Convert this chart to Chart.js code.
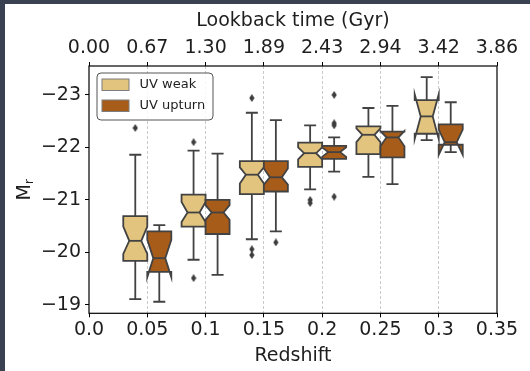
<!DOCTYPE html>
<html>
<head>
<meta charset="utf-8">
<script src="https://cdn.jsdelivr.net/npm/chart.js@4.4.1/dist/chart.umd.min.js"></script>
<style>
  html, body { margin: 0; padding: 0; background: #3a4252; }
  canvas { display: block; }
</style>
</head>
<body>
<canvas id="grafico" width="530" height="371"></canvas>
<script>
// Bins de redshift y ejes
const redshifts = [0.05, 0.10, 0.15, 0.20, 0.25, 0.30];
const zTicks = [0, 0.05, 0.1, 0.15, 0.2, 0.25, 0.3, 0.35];
const zLabels = ['0.0', '0.05', '0.1', '0.15', '0.2', '0.25', '0.3', '0.35'];
const lookbackLabels = ['0.00', '0.67', '1.30', '1.89', '2.43', '2.94', '3.42', '3.86'];
const magTicks = [-23, -22, -21, -20, -19];

// UV weak (M_r): bigote, cuartiles, mediana, muesca
const weakWhiskerMin = [-21.86, -21.94, -22.66, -22.42, -22.75, -23.34];
const weakQ1 = [-20.69, -21.10, -21.74, -22.09, -22.40, -22.90];
const weakMedian = [-20.22, -20.76, -21.48, -21.89, -22.24, -22.59];
const weakQ3 = [-19.84, -20.49, -21.11, -21.63, -21.87, -22.26];
const weakWhiskerMax = [-19.11, -19.86, -20.25, -21.20, -21.44, -22.14];
const weakNotchLo = [-20.49, -20.96, -21.62, -22.00, -22.36, -23.01];
const weakNotchHi = [-19.97, -20.58, -21.31, -21.77, -22.10, -22.16];
const weakOutliers = [[-22.37], [-22.10, -19.51], [-22.94, -20.06, -19.95], [-21.00, -20.94], [], []];

// UV upturn
const upWhiskerMin = [-20.52, -21.88, -22.52, -22.19, -22.79, -22.86];
const upQ1 = [-20.40, -21.00, -21.74, -22.03, -22.30, -22.44];
const upMedian = [-19.89, -20.76, -21.43, -21.91, -22.19, -22.10];
const upQ3 = [-19.63, -20.35, -21.16, -21.78, -21.81, -22.05];
const upWhiskerMax = [-19.06, -19.57, -20.40, -21.54, -21.30, -21.91];
const upNotchLo = [-20.24, -20.90, -21.60, -22.00, -22.31, -22.34];
const upNotchHi = [-19.53, -20.62, -21.29, -21.82, -22.02, -21.86];
const upOutliers = [[], [], [-20.19], [-23.00, -22.46, -22.42, -21.06], [], []];

const weakColor = '#e2c47f';
const upColor = '#a85c1a';
const edgeColor = '#424242';
const textColor = '#1e1e1e';
const boxOffset = 0.0103;   // desplazamiento de cada caja respecto al bin
const boxHalf = 0.0103;     // media anchura de la caja (en unidades de z)

const series = [
  { label: 'UV weak', color: weakColor, off: -boxOffset,
    lo: weakWhiskerMin, q1: weakQ1, med: weakMedian, q3: weakQ3, hi: weakWhiskerMax,
    nLo: weakNotchLo, nHi: weakNotchHi, out: weakOutliers },
  { label: 'UV upturn', color: upColor, off: boxOffset,
    lo: upWhiskerMin, q1: upQ1, med: upMedian, q3: upQ3, hi: upWhiskerMax,
    nLo: upNotchLo, nHi: upNotchHi, out: upOutliers }
];

// marcador de diamante fino para los outliers
const diamante = document.createElement('canvas');
diamante.width = 6; diamante.height = 8;
(function () {
  const c = diamante.getContext('2d');
  c.fillStyle = '#3d3d3d';
  c.beginPath();
  c.moveTo(3, 0); c.lineTo(5.6, 4); c.lineTo(3, 8); c.lineTo(0.4, 4);
  c.closePath(); c.fill();
})();

function outlierPoints(s) {
  const pts = [];
  redshifts.forEach((z, i) => s.out[i].forEach(v => pts.push({ x: z + s.off, y: v })));
  return pts;
}

// fondo oscuro con la figura blanca encima
const fondo = {
  id: 'fondo',
  beforeDraw(chart) {
    const c = chart.ctx;
    c.save();
    c.fillStyle = '#3a4252';
    c.fillRect(0, 0, chart.width, chart.height);
    c.fillStyle = '#ffffff';
    c.fillRect(5, 4, chart.width - 5, chart.height - 4);
    c.restore();
  }
};

// cajas con muesca (estilo seaborn notch=True)
const cajas = {
  id: 'cajas',
  beforeDatasetsDraw(chart) {
    const c = chart.ctx;
    const xs = chart.scales.x, ys = chart.scales.y;
    const py = v => ys.getPixelForValue(v);
    c.save();
    c.lineWidth = 1.8;
    c.strokeStyle = edgeColor;
    c.lineJoin = 'miter';
    series.forEach(s => {
      redshifts.forEach((z, i) => {
        const zc = z + s.off;
        const left = xs.getPixelForValue(zc - boxHalf);
        const right = xs.getPixelForValue(zc + boxHalf);
        const mid = (left + right) / 2;
        const w = right - left;
        const q1 = py(s.q1[i]), q3 = py(s.q3[i]), med = py(s.med[i]);
        const nLo = py(s.nLo[i]), nHi = py(s.nHi[i]);
        const lo = py(s.lo[i]), hi = py(s.hi[i]);
        // bigotes y tapas
        c.beginPath();
        c.moveTo(mid, q1); c.lineTo(mid, lo);
        c.moveTo(mid, q3); c.lineTo(mid, hi);
        c.moveTo(mid - w / 4, lo); c.lineTo(mid + w / 4, lo);
        c.moveTo(mid - w / 4, hi); c.lineTo(mid + w / 4, hi);
        c.stroke();
        // caja
        c.beginPath();
        c.moveTo(left, q1);
        c.lineTo(left, nLo);
        c.lineTo(left + w / 4, med);
        c.lineTo(left, nHi);
        c.lineTo(left, q3);
        c.lineTo(right, q3);
        c.lineTo(right, nHi);
        c.lineTo(right - w / 4, med);
        c.lineTo(right, nLo);
        c.lineTo(right, q1);
        c.closePath();
        c.fillStyle = s.color;
        c.fill();
        c.stroke();
        // mediana
        c.beginPath();
        c.moveTo(left + w / 4, med); c.lineTo(right - w / 4, med);
        c.stroke();
      });
    });
    c.restore();
  },
  afterDraw(chart) {
    const c = chart.ctx;
    const a = chart.chartArea;
    c.save();
    // marco
    c.strokeStyle = '#000';
    c.lineWidth = 1.2;
    c.strokeRect(a.left, a.top, a.right - a.left, a.bottom - a.top);
    // leyenda
    const lx = a.left + 8, ly = a.top + 7, lw = 116, lh = 47;
    c.beginPath();
    c.roundRect(lx, ly, lw, lh, 4);
    c.fillStyle = 'rgba(255,255,255,0.85)';
    c.fill();
    c.strokeStyle = '#555';
    c.lineWidth = 1;
    c.stroke();
    c.font = '13px "DejaVu Sans"';
    c.textBaseline = 'middle';
    series.forEach((s, k) => {
      const yy = ly + 6 + k * 21;
      c.fillStyle = s.color;
      c.fillRect(lx + 5, yy, 27, 11.5);
      c.strokeStyle = '#7d7d7d';
      c.lineWidth = 1;
      c.strokeRect(lx + 5, yy, 27, 11.5);
      c.fillStyle = textColor;
      c.fillText(s.label, lx + 42.5, yy + 6);
    });
    // título del eje y: M_r
    c.translate(30, (a.top + a.bottom) / 2);
    c.rotate(-Math.PI / 2);
    c.fillStyle = textColor;
    c.textBaseline = 'alphabetic';
    c.font = '19px "DejaVu Sans"';
    const wM = c.measureText('M').width;
    c.font = '13px "DejaVu Sans"';
    const wr = c.measureText('r').width;
    const x0 = -(wM + wr) / 2;
    c.font = '19px "DejaVu Sans"';
    c.fillText('M', x0, 0);
    c.font = '13px "DejaVu Sans"';
    c.fillText('r', x0 + wM, 3);
    c.restore();
  }
};

Chart.defaults.font.family = '"DejaVu Sans"';
Chart.defaults.color = textColor;

const ctx = document.getElementById('grafico').getContext('2d');
const grafico = new Chart(ctx, {
  type: 'scatter',
  data: {
    datasets: series.map(s => ({
      label: s.label,
      data: outlierPoints(s),
      pointStyle: diamante,
      pointRadius: 3
    }))
  },
  options: {
    responsive: false,
    animation: false,
    layout: { padding: { left: 5, top: 4, right: 33, bottom: 0 } },
    plugins: { legend: { display: false }, tooltip: { enabled: false } },
    scales: {
      x: {
        type: 'linear', position: 'bottom', min: 0, max: 0.35,
        afterBuildTicks: s => { s.ticks = zTicks.map(v => ({ value: v })); },
        afterFit: s => { s.height = 57.7; },
        ticks: { font: { size: 19 }, padding: 1, maxRotation: 0, autoSkip: false,
                 callback: (v, i) => zLabels[i] },
        grid: {
          color: ctx => (ctx.index === 0 || ctx.index === zTicks.length - 1) ? 'rgba(0,0,0,0)' : '#c4c4c4',
          lineWidth: 0.9, tickColor: '#000', tickLength: 4, tickWidth: 1
        },
        border: { display: false, dash: [3, 2] },
        title: { display: true, text: 'Redshift', font: { size: 19 }, padding: { top: 0, bottom: 4 } }
      },
      x2: {
        type: 'linear', position: 'top', min: 0, max: 0.35,
        afterBuildTicks: s => { s.ticks = zTicks.map(v => ({ value: v })); },
        afterFit: s => { s.height = 62; },
        ticks: { font: { size: 19 }, padding: 3, maxRotation: 0, autoSkip: false,
                 callback: (v, i) => lookbackLabels[i] },
        grid: { drawOnChartArea: false, tickColor: '#000', tickLength: 4, tickWidth: 1 },
        border: { display: false },
        title: { display: true, text: 'Lookback time (Gyr)', font: { size: 19 }, padding: { top: 6, bottom: 0 } }
      },
      y: {
        type: 'linear', reverse: true, min: -23.55, max: -18.84,
        afterBuildTicks: s => { s.ticks = magTicks.map(v => ({ value: v })); },
        afterFit: s => { s.width = 84; },
        ticks: { font: { size: 19 }, padding: 4,
                 callback: v => '\u2212' + Math.abs(v) },
        grid: { drawOnChartArea: false, tickColor: '#000', tickLength: 4, tickWidth: 1 },
        border: { display: false }
      }
    }
  },
  plugins: [fondo, cajas]
});
</script>
</body>
</html>
